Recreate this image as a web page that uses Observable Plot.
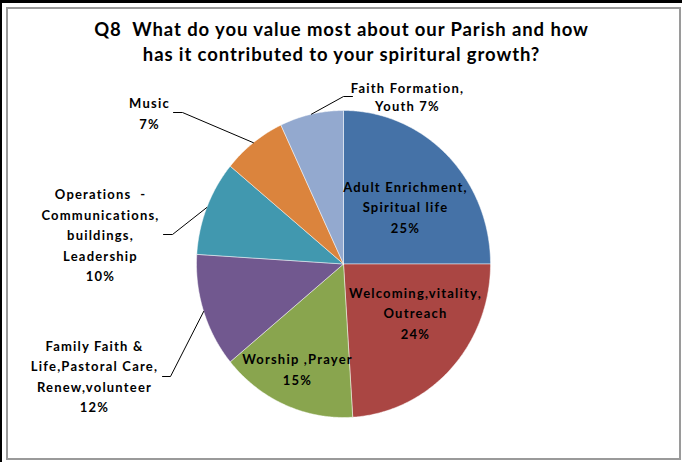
<!DOCTYPE html>
<html><head><meta charset="utf-8">
<script src="https://cdn.jsdelivr.net/npm/d3@7"></script>
<script src="https://cdn.jsdelivr.net/npm/@observablehq/plot@0.6"></script>
<style>
body{margin:0;background:#fff;}
#wrap{position:relative;width:682px;height:462px;overflow:hidden;}
.band-top{position:absolute;left:0;top:0;width:682px;height:3px;background:#000}
.band-left{position:absolute;left:0;top:0;width:2px;height:462px;background:#000}
.box{position:absolute;left:6px;top:7px;width:671px;height:449px;border:2px solid #9a9a9a}
#chart{position:absolute;left:0;top:0}
.lbl text{letter-spacing:1.2px}
.ttl text{letter-spacing:0.9px}
</style></head><body>
<div id="wrap"><div class="band-top"></div><div class="band-left"></div><div class="box"></div><div id="chart"></div></div>
<script>
// ---- data ----
const titleLines = ["Q8  What do you value most about our Parish and how", "has it contributed to your spiritural growth?"];
const categories = [
  "Adult Enrichment,\nSpiritual life",
  "Welcoming,vitality,\nOutreach",
  "Worship ,Prayer",
  "Family Faith &\nLife,Pastoral Care,\nRenew,volunteer",
  "Operations  -\nCommunications,\nbuildings,\nLeadership",
  "Music",
  "Faith Formation,\nYouth"
];
const values = [25, 24, 15, 12, 10, 7, 7];
const colors = ["#4572A7", "#AA4643", "#89A54E", "#71588F", "#4198AF", "#DB843D", "#93A9CF"];

// ---- layout (pixels) ----
const cx = 343, cy = 263.5, rx = 147, ry = 153.5;
const W = 682, H = 462;
const px2x = p => (p - cx) / rx;
const py2y = p => (cy - p) / ry;
const layout = [
  {lx: 405, ly: 205, inside: true},
  {lx: 415, ly: 311, inside: true},
  {lx: 297, ly: 367.5, inside: true},
  {lx: 94, ly: 374.5, elbow: [170, 376], end: [162, 376]},
  {lx: 100, ly: 233, elbow: [172, 234], end: [163, 234]},
  {lx: 149, ly: 111.5, elbow: [182, 112], end: [173, 112]},
  {lx: 407, ly: 96, elbow: [343, 96], end: [352, 96], sameLine: true}
];

const total = d3.sum(values);
let cum = 0;
const slices = values.map((v, i) => {
  const a0 = cum / total * 2 * Math.PI;
  cum += v;
  const a1 = cum / total * 2 * Math.PI;
  return {cat: categories[i], v, a0, a1, mid: (a0 + a1) / 2, i};
});

const polys = [];
for (const s of slices) {
  polys.push({cat: s.cat, x: 0, y: 0});
  const n = Math.max(2, Math.ceil((s.a1 - s.a0) / (Math.PI / 360)));
  for (let k = 0; k <= n; k++) {
    const a = s.a0 + (s.a1 - s.a0) * k / n;
    polys.push({cat: s.cat, x: Math.sin(a), y: Math.cos(a)});
  }
  polys.push({cat: s.cat, x: 0, y: 0});
}

const labels = slices.map(s => {
  const L = layout[s.i];
  const pct = `${s.v}%`;
  const text = L.sameLine ? `${s.cat} ${pct}` : `${s.cat}\n${pct}`;
  return {text, x: px2x(L.lx), y: py2y(L.ly)};
});

const leaders = [];
slices.forEach(s => {
  const L = layout[s.i];
  if (!L.elbow) return;
  leaders.push({k: s.i, x: Math.sin(s.mid), y: Math.cos(s.mid)});
  leaders.push({k: s.i, x: px2x(L.elbow[0]), y: py2y(L.elbow[1])});
  leaders.push({k: s.i, x: px2x(L.end[0]), y: py2y(L.end[1])});
});

const font = "Lato, 'Open Sans', sans-serif";
const chart = Plot.plot({
  width: W, height: H,
  margin: 0,
  x: {domain: [-1, 1], range: [cx - rx, cx + rx], axis: null},
  y: {domain: [-1, 1], range: [cy + ry, cy - ry], axis: null},
  color: {domain: categories, range: colors},
  style: {background: "transparent", fontFamily: font},
  marks: [
    Plot.line(polys, {x: "x", y: "y", z: "cat", fill: "cat", stroke: "#ffffff", strokeWidth: 0.6, strokeOpacity: 0.8}),
    Plot.line(leaders, {x: "x", y: "y", z: "k", stroke: "#000", strokeWidth: 1}),
    Plot.text(labels.filter((d, i) => layout[i].sameLine), {x: "x", y: "y", text: "text", fontSize: 13, fontWeight: "bold", fill: "#000", lineHeight: 1.35, fontFamily: font, className: "lbl"}),
    Plot.text(labels.filter((d, i) => !layout[i].sameLine), {x: "x", y: "y", text: "text", fontSize: 13, fontWeight: "bold", fill: "#000", lineHeight: 1.58, fontFamily: font, className: "lbl"}),
    Plot.text([titleLines[0]], {frameAnchor: "top", dy: 30, lineAnchor: "middle", fontSize: 18.5, fontWeight: "bold", fill: "#000", fontFamily: font, className: "ttl"}),
    Plot.text([titleLines[1]], {frameAnchor: "top", dy: 55, lineAnchor: "middle", fontSize: 18.5, fontWeight: "bold", fill: "#000", fontFamily: font, className: "ttl"})
  ]
});
document.getElementById("chart").appendChild(chart);
</script>
</body></html>
